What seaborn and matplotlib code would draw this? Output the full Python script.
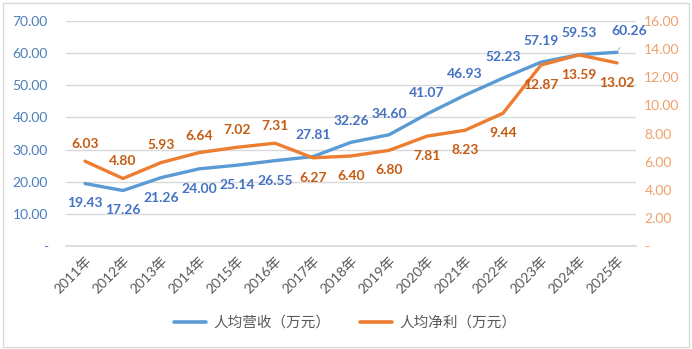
import matplotlib
matplotlib.use("Agg")
import matplotlib.pyplot as plt
import seaborn as sns
import numpy as np
from matplotlib.lines import Line2D

years = ["2011年", "2012年", "2013年", "2014年", "2015年", "2016年", "2017年", "2018年",
         "2019年", "2020年", "2021年", "2022年", "2023年", "2024年", "2025年"]
revenue = [19.43, 17.26, 21.26, 24.00, 25.14, 26.55, 27.81, 32.26, 34.60, 41.07,
           46.93, 52.23, 57.19, 59.53, 60.26]
profit = [6.03, 4.80, 5.93, 6.64, 7.02, 7.31, 6.27, 6.40, 6.80, 7.81, 8.23, 9.44,
          12.87, 13.59, 13.02]
left_ticks = [0, 10, 20, 30, 40, 50, 60, 70]
right_ticks = [0, 2, 4, 6, 8, 10, 12, 14, 16]
series_names = ["人均营收（万元）", "人均净利（万元）"]
rev_pos = ["below"] * 6 + ["above"] * 9
prof_pos = ["above"] * 6 + ["below"] * 9

sns.set_theme(style="white")
plt.rcParams["font.family"] = ["Lato", "Noto Sans CJK SC", "DejaVu Sans"]

BLUE = "#5B9BD5"
ORANGE = "#ED7D31"
BLUE_TXT = "#4472C4"
ORANGE_TXT = "#C55A11"

fig = plt.figure(figsize=(6.92, 3.49), dpi=100)
ax = fig.add_axes([66 / 692, 1 - 246 / 349, 570 / 692, 225 / 349])
ax2 = ax.twinx()

x = np.arange(len(years))
sns.lineplot(x=x, y=revenue, ax=ax, color=BLUE, linewidth=2.4, legend=False)
sns.lineplot(x=x, y=profit, ax=ax2, color=ORANGE, linewidth=2.4, legend=False)

ax.set_xlim(-0.5, len(years) - 0.5)
ax.set_ylim(0, 70)
ax2.set_ylim(0, 16)
ax.set_yticks(left_ticks)
ax.set_yticklabels(["-" if t == 0 else f"{t:.2f}" for t in left_ticks],
                   color="#4A7EBB", fontsize=10)
ax2.set_yticks(right_ticks)
ax2.set_yticklabels(["-" if t == 0 else f"{t:.2f}" for t in right_ticks],
                    color="#F0A06A", fontsize=10)
ax.set_xticks(x)
ax.set_xticklabels(years, rotation=45, ha="right", rotation_mode="anchor",
                   color="#595959", fontsize=10)
ax.tick_params(axis="y", length=0, pad=13)
ax.tick_params(axis="x", length=0, pad=6)
ax2.tick_params(axis="both", length=0, pad=6)
ax.grid(axis="y", color="#D9D9D9", linewidth=1)
ax.grid(axis="x", visible=False)
ax2.grid(False)
for a in (ax, ax2):
    for s in a.spines.values():
        s.set_visible(False)
ax.spines["bottom"].set_visible(True)
ax.spines["bottom"].set_color("#D9D9D9")

# data labels
for i, (v, p) in enumerate(zip(revenue, rev_pos)):
    dy = 11 if p == "above" else -10
    dx = 0
    kw = {}
    if i == len(revenue) - 1:
        dx = 9
        kw = dict(arrowprops=dict(arrowstyle="-", color="#A6A6A6", lw=0.6,
                                  shrinkA=6, shrinkB=2))
    ax.annotate(f"{v:.2f}", (i, v), xytext=(dx, dy), textcoords="offset points",
                ha="center", va="bottom" if p == "above" else "top",
                color=BLUE_TXT, fontsize=10, fontweight="bold", **kw)
for i, (v, p) in enumerate(zip(profit, prof_pos)):
    dy = 8 if p == "above" else -10
    kw = {}
    if i == 12:
        kw = dict(arrowprops=dict(arrowstyle="-", color="#A6A6A6", lw=0.6,
                                  shrinkA=6, shrinkB=2))
    ax2.annotate(f"{v:.2f}", (i, v), xytext=(0, dy), textcoords="offset points",
                 ha="center", va="bottom" if p == "above" else "top",
                 color=ORANGE_TXT, fontsize=10, fontweight="bold", **kw)

# legend
handles = [Line2D([], [], color=BLUE, lw=2.6), Line2D([], [], color=ORANGE, lw=2.6)]
fig.legend(handles, series_names, loc="center", bbox_to_anchor=(345 / 692, 1 - 323 / 349),
           ncol=2, frameon=False, fontsize=10.5, labelcolor="#595959",
           handlelength=2.2, columnspacing=2.0, handletextpad=0.5)

fig.patches.append(plt.Rectangle((0.004, 0.006), 0.992, 0.985, transform=fig.transFigure,
                                 fill=False, edgecolor="#D9D9D9", linewidth=1))
fig.savefig("out.png", dpi=100, facecolor="white")
